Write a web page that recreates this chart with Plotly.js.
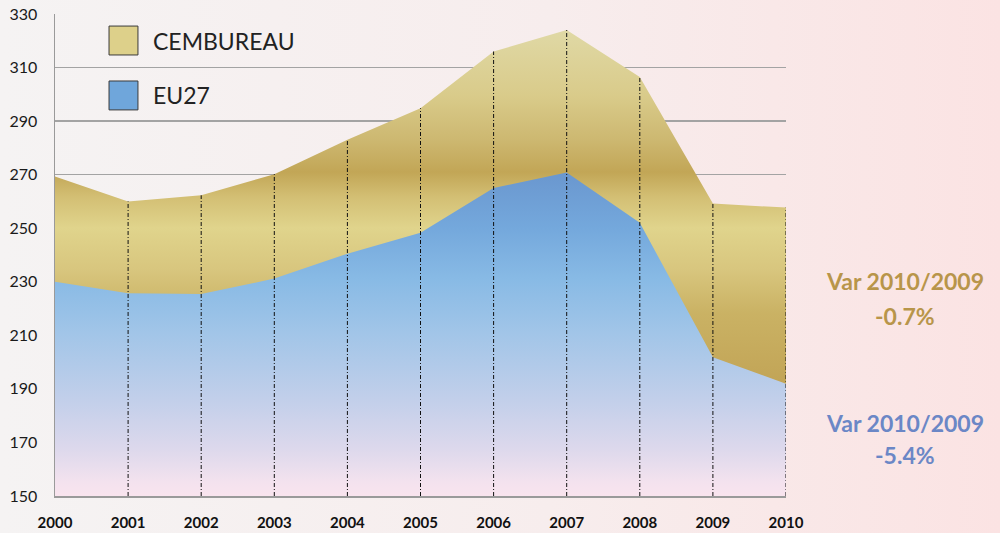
<!DOCTYPE html>
<html><head><meta charset="utf-8">
<script src="https://cdn.plot.ly/plotly-3.0.1.min.js"></script>
<style>
html,body{margin:0;padding:0;}
body{width:1000px;height:533px;overflow:hidden;background:linear-gradient(to right,#f5f3f3 0%,#f7eded 55%,#fbe3e3 100%);}
#chart{width:1000px;height:533px;}
</style></head><body><div id="chart"></div>
<script>
// ---- data ----
const years = [2000, 2001, 2002, 2003, 2004, 2005, 2006, 2007, 2008, 2009, 2010];
const cembureau = [269.3, 260.0, 262.3, 270.2, 283.0, 294.8, 316.0, 324.0, 306.5, 259.2, 257.7];
const eu27 = [230.0, 225.7, 225.4, 231.2, 240.5, 248.3, 265.0, 270.8, 252.0, 201.8, 191.9];
const seriesNames = ['CEMBUREAU', 'EU27'];
const yTicks = [150, 170, 190, 210, 230, 250, 270, 290, 310, 330];
const varLabel = 'Var 2010/2009';
const varValues = ['-0.7%', '-5.4%'];

// ---- styling ----
const FONT = 'Lato, "Open Sans", "DejaVu Sans", sans-serif';
const goldScale = [
  [0.00, '#c0a255'], [0.22, '#c1a355'], [0.38, '#cab264'], [0.47, '#d8c67e'],
  [0.556, '#e0d48c'], [0.62, '#d3bf74'], [0.672, '#c2a656'], [0.74, '#cdb871'],
  [0.83, '#d9cb8a'], [0.97, '#e0d9a6'], [1.00, '#e2dcac']
];
const blueScale = [
  [0.00, '#f9e4ee'], [0.03, '#f3e2ee'], [0.10, '#dcd8ec'], [0.20, '#c2cfea'],
  [0.34, '#a1c5e8'], [0.45, '#88bae5'], [0.556, '#74a8dc'], [0.67, '#6a97cf'],
  [1.00, '#6690cb']
];

const traces = [
  {
    x: years, y: cembureau, name: seriesNames[0], type: 'scatter', mode: 'none',
    fill: 'tozeroy', fillgradient: {type: 'vertical', start: 150, stop: 330, colorscale: goldScale},
    hoverinfo: 'x+y+name', showlegend: false
  },
  {
    x: years, y: eu27, name: seriesNames[1], type: 'scatter', mode: 'none',
    fill: 'tozeroy', fillgradient: {type: 'vertical', start: 150, stop: 330, colorscale: blueScale},
    hoverinfo: 'x+y+name', showlegend: false
  }
];

// drop lines from the axis bottom to the top series, built from the data
const dx = [], dy = [];
for (let i = 1; i < years.length; i++) {
  dx.push(years[i], years[i], null);
  dy.push(yTicks[0], Math.max(cembureau[i], eu27[i]), null);
}
traces.push({
  x: dx, y: dy, type: 'scatter', mode: 'lines', hoverinfo: 'skip', showlegend: false,
  line: {color: '#111111', width: 1, dash: '4px,2px,1px,2px'}
});

// manual legend (squares + labels)
const legendColors = ['#ddd08a', '#6fa6db'];
const shapes = [], annotations = [];
const legendTops = [0.975, 0.861];
seriesNames.forEach((nm, i) => {
  shapes.push({
    type: 'rect', xref: 'paper', yref: 'paper',
    x0: 0.0739, x1: 0.1135, y0: legendTops[i] - 0.060, y1: legendTops[i],
    fillcolor: legendColors[i], line: {color: '#3a3a3a', width: 1}
  });
  annotations.push({
    xref: 'paper', yref: 'paper', x: 0.132, y: legendTops[i] - 0.030,
    xanchor: 'left', yanchor: 'middle', showarrow: false, text: nm,
    font: {family: FONT, size: 23, color: '#222222'}
  });
});

// variation notes on the right
const varColors = ['#b8954a', '#6b87c6'];
const varY = [[0.446, 0.374], [0.151, 0.085]];
varValues.forEach((v, i) => {
  annotations.push({
    xref: 'paper', yref: 'paper', x: 1.163, y: varY[i][0], xanchor: 'center', yanchor: 'middle',
    showarrow: false, text: varLabel, font: {family: FONT, size: 23, color: varColors[i], weight: 700}
  });
  annotations.push({
    xref: 'paper', yref: 'paper', x: 1.163, y: varY[i][1], xanchor: 'center', yanchor: 'middle',
    showarrow: false, text: v, font: {family: FONT, size: 23, color: varColors[i], weight: 700}
  });
});

const layout = {
  width: 1000, height: 533,
  margin: {l: 55, r: 214, t: 14, b: 37, pad: 0},
  paper_bgcolor: 'rgba(0,0,0,0)', plot_bgcolor: 'rgba(0,0,0,0)',
  showlegend: false,
  font: {family: FONT},
  xaxis: {
    type: 'linear', range: [years[0], years[years.length - 1]], tickvals: years,
    ticktext: years.map(String), showgrid: false, zeroline: false,
    showline: true, linecolor: '#9a9a9a', linewidth: 1.5, ticks: '',
    ticklabelstandoff: 12, automargin: false,
    tickfont: {family: FONT, size: 15, color: '#111111', weight: 700}
  },
  yaxis: {
    range: [yTicks[0], yTicks[yTicks.length - 1]], tickvals: yTicks,
    showgrid: true, gridcolor: '#a3a3a3', gridwidth: 1.5, zeroline: false,
    showline: true, linecolor: '#9a9a9a', linewidth: 1.5, ticks: '',
    ticklabelstandoff: 13, automargin: false,
    tickfont: {family: FONT, size: 16, color: '#1a1a1a'}
  },
  shapes: shapes,
  annotations: annotations
};

Plotly.newPlot('chart', traces, layout, {displayModeBar: false, staticPlot: true});
</script>
</body></html>
